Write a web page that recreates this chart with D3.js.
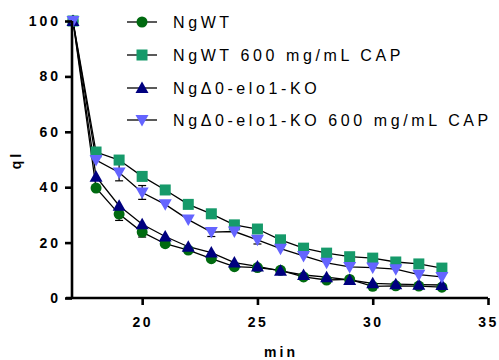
<!DOCTYPE html>
<html><head><meta charset="utf-8">
<script src="https://cdn.jsdelivr.net/npm/d3@7"></script>
<style>
html,body{margin:0;padding:0;background:#fff;}
svg{display:block;font-family:"Liberation Sans",Arial,Helvetica,sans-serif;}
</style></head>
<body><svg id="c" width="499" height="360"></svg>
<script>
const minutes = [17,18,19,20,21,22,23,24,25,26,27,28,29,30,31,32,33];
const seriesNames = ["NgWT","NgWT 600 mg/mL CAP","Ng\u03940-elo1-KO","Ng\u03940-elo1-KO 600 mg/mL CAP"];
const ngWT      = [100,39.7,30.3,23.8,19.6,17.3,14.2,11.3,11,10,7.6,6.5,6.7,4.2,4.4,4.3,3.9];
const ngWTCap   = [100,52.7,49.8,43.9,39,33.8,30.4,26.4,24.9,21,18,16.2,14.9,14.4,13,12.3,10.8];
const ko        = [100,43.8,33.3,26.6,22.2,18.5,16.4,12.8,11.4,9.8,8.3,7.5,6.5,5.3,5,4.8,4.7];
const koCap     = [100,49.8,45.3,38.1,33.8,28.3,23.8,24,21,17.8,15.2,12.7,11.2,11,10.4,8.4,7.6];
const ngWTErr   = [0,0,2.3,1.8,0,0,0,0,0,0,0,0,0,0,0,0,0];
const ngWTCapErr= [0,0,0,0,0,0,0,0,0,0,0,0,0,0,0,0,0];
const koErr     = [0,0,0,0,0,0,0,0,0,0,0,0,0,0,0,0,0];
const koCapErr  = [0,0,3,2.5,0,0,1.6,0,1.5,0,0,0,0,0,0,0,0];
const xTicks = [20,25,30,35];
const yTicks = [0,20,40,60,80,100];
const colors = ["#006a10","#169a6a","#00007f","#6464ff"];
const shapes = ["circle","square","triangle","triangleDown"];

const svg = d3.select("#c");
const x = d3.scaleLinear().domain([17,35]).range([73,488]);
const y = d3.scaleLinear().domain([0,100]).range([298,21]);

const errs = [ngWTErr,ngWTCapErr,koErr,koCapErr];
const series = [ngWT,ngWTCap,ko,koCap].map((vals,i)=>({
  name:seriesNames[i], color:colors[i], shape:shapes[i],
  pts:minutes.map((m,j)=>({x:m,y:vals[j],e:errs[i][j]}))
}));

function drawMarker(g, shape, cx, cy, color){
  if(shape==="circle"){
    g.append("circle").attr("cx",cx).attr("cy",cy).attr("r",5.5).attr("fill",color);
  } else if(shape==="square"){
    g.append("rect").attr("x",cx-5.5).attr("y",cy-5.5).attr("width",11).attr("height",11).attr("fill",color);
  } else if(shape==="triangle"){
    g.append("path").attr("d",`M${cx},${cy-6.5}L${cx+6.5},${cy+5}L${cx-6.5},${cy+5}Z`).attr("fill",color);
  } else {
    g.append("path").attr("d",`M${cx},${cy+6.5}L${cx+6.5},${cy-5}L${cx-6.5},${cy-5}Z`).attr("fill",color);
  }
}

const line = d3.line().x(d=>x(d.x)).y(d=>y(d.y));
series.forEach(s=>{
  svg.append("path").attr("d",line(s.pts)).attr("fill","none").attr("stroke","#000").attr("stroke-width",1.3);
});
series.forEach(s=>{
  s.pts.filter(p=>p.e>0).forEach(p=>{
    const g = svg.append("g").attr("stroke","#000").attr("stroke-width",1.2);
    g.append("line").attr("x1",x(p.x)).attr("x2",x(p.x)).attr("y1",y(p.y-p.e)).attr("y2",y(p.y+p.e));
    g.append("line").attr("x1",x(p.x)-4).attr("x2",x(p.x)+4).attr("y1",y(p.y-p.e)).attr("y2",y(p.y-p.e));
    g.append("line").attr("x1",x(p.x)-4).attr("x2",x(p.x)+4).attr("y1",y(p.y+p.e)).attr("y2",y(p.y+p.e));
  });
});
series.forEach(s=>{
  const g = svg.append("g");
  s.pts.forEach(p=>drawMarker(g,s.shape,x(p.x),y(p.y),s.color));
});

const xAxis = svg.append("g").attr("transform","translate(0,298)")
  .call(d3.axisBottom(x).tickValues(xTicks).tickSize(7).tickPadding(12).tickSizeOuter(0));
const yAxis = svg.append("g").attr("transform","translate(72,0)")
  .call(d3.axisLeft(y).tickValues(yTicks).tickSize(7).tickPadding(4).tickSizeOuter(0));
[xAxis,yAxis].forEach(a=>{
  a.select(".domain").attr("stroke","#000").attr("stroke-width",2.6);
  a.selectAll(".tick line").attr("stroke","#000").attr("stroke-width",2.6);
  a.selectAll("text").attr("fill","#000").style("font-size","14px").style("font-weight","bold")
    .style("letter-spacing","3px").style("font-family","'Liberation Sans',Arial,sans-serif");
});
xAxis.selectAll(".tick text").style("letter-spacing","2.5px");
xAxis.select(".domain").attr("d","M66,0H488");
yAxis.select(".domain").attr("d","M0,298V21");

svg.append("text").attr("x",281).attr("y",357).attr("text-anchor","middle")
  .style("font-size","14px").style("font-weight","bold").style("letter-spacing","3px").text("min");
svg.append("text").attr("transform","translate(21,160) rotate(-90)").attr("text-anchor","middle")
  .style("font-size","14px").style("font-weight","bold").style("letter-spacing","3px").text("ql");

const legY = [22,55,88,120];
series.forEach((s,i)=>{
  const g = svg.append("g");
  g.append("line").attr("x1",127).attr("x2",157).attr("y1",legY[i]).attr("y2",legY[i]).attr("stroke","#000").attr("stroke-width",1.3);
  drawMarker(g,s.shape,142,legY[i],s.color);
  g.append("text").attr("x",173).attr("y",legY[i]).attr("dy","0.36em")
    .style("font-size","16px").style("letter-spacing","3.6px").attr("fill","#000").text(s.name);
});
</script></body></html>
